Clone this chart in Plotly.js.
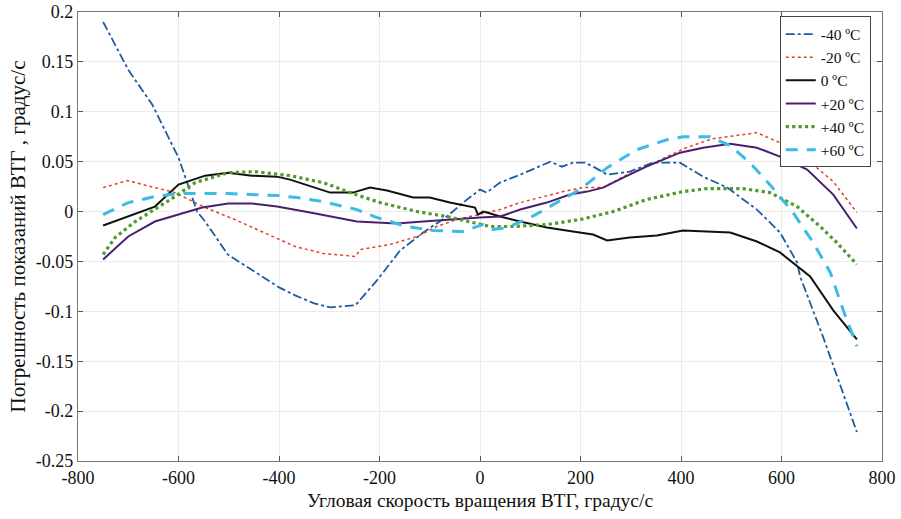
<!DOCTYPE html>
<html>
<head>
<meta charset="utf-8">
<script src="https://cdn.plot.ly/plotly-3.0.1.min.js"></script>
<style>html,body{margin:0;padding:0;background:#fff;}#chart{width:901px;height:519px;}</style>
</head>
<body>
<div id="chart"></div>
<script>
// Series names
const seriesNames = ['-40 ºC', '-20 ºC', '0 ºC', '+20 ºC', '+40 ºC', '+60 ºC'];

// -40 ºC
const xM40 = [-750, -700, -652, -600, -563, -547, -502, -450, -400, -368, -330, -298, -248, -205, -159, -113, -66, -26, 0, 13, 40, 80, 113, 140, 163, 185, 209, 229, 253, 298, 344, 398, 444, 492, 551, 597, 631, 637, 683, 750];
const yM40 = [0.190, 0.142, 0.107, 0.054, 0.000, -0.010, -0.043, -0.060, -0.076, -0.084, -0.092, -0.096, -0.094, -0.069, -0.039, -0.021, -0.005, 0.012, 0.022, 0.019, 0.029, 0.037, 0.044, 0.050, 0.045, 0.049, 0.049, 0.044, 0.037, 0.040, 0.049, 0.049, 0.035, 0.024, 0.002, -0.021, -0.051, -0.065, -0.126, -0.221];

// -20 ºC
const xM20 = [-750, -702, -607, -547, -488, -434, -368, -312, -248, -238, -179, -125, -86, -46, 0, 40, 80, 120, 165, 205, 245, 285, 331, 372, 410, 463, 551, 597, 651, 703, 750];
const yM20 = [0.024, 0.031, 0.019, 0.004, -0.008, -0.020, -0.035, -0.042, -0.045, -0.038, -0.033, -0.025, -0.015, -0.008, -0.003, 0.002, 0.009, 0.014, 0.020, 0.024, 0.024, 0.035, 0.045, 0.055, 0.064, 0.073, 0.079, 0.069, 0.052, 0.030, -0.001];

// 0 ºC
const x0 = [-750, -700, -647, -600, -547, -501, -454, -404, -378, -298, -253, -219, -185, -133, -100, -60, -10, -4, 6, 14, 40, 80, 133, 185, 225, 253, 298, 352, 404, 498, 551, 597, 631, 657, 703, 750];
const y0 = [-0.014, -0.005, 0.005, 0.027, 0.036, 0.039, 0.036, 0.035, 0.032, 0.019, 0.019, 0.024, 0.021, 0.014, 0.014, 0.009, 0.004, -0.003, 0.000, -0.001, -0.005, -0.010, -0.016, -0.020, -0.023, -0.029, -0.026, -0.024, -0.019, -0.021, -0.030, -0.041, -0.055, -0.065, -0.099, -0.128];

// +20 ºC
const xP20 = [-750, -700, -647, -600, -553, -501, -454, -404, -368, -338, -245, -166, -113, -60, 0, 40, 80, 133, 179, 213, 245, 285, 331, 398, 444, 498, 551, 597, 651, 703, 750];
const yP20 = [-0.048, -0.025, -0.010, -0.003, 0.004, 0.008, 0.008, 0.005, 0.002, -0.001, -0.010, -0.012, -0.010, -0.008, -0.006, -0.005, 0.002, 0.009, 0.017, 0.020, 0.024, 0.034, 0.045, 0.059, 0.064, 0.068, 0.064, 0.055, 0.042, 0.017, -0.017];

// +40 ºC
const xP40 = [-750, -726, -686, -647, -607, -567, -501, -448, -394, -378, -312, -253, -199, -125, -66, -20, 20, 66, 133, 199, 265, 331, 404, 451, 523, 577, 631, 677, 710, 750];
const yP40 = [-0.043, -0.026, -0.010, 0.002, 0.015, 0.029, 0.039, 0.040, 0.037, 0.036, 0.029, 0.018, 0.009, 0.000, -0.005, -0.010, -0.015, -0.015, -0.013, -0.008, 0.000, 0.012, 0.020, 0.023, 0.023, 0.019, 0.005, -0.015, -0.031, -0.053];

// +60 ºC
const xP60 = [-750, -700, -647, -600, -501, -462, -402, -364, -312, -245, -205, -146, -94, -34, 6, 26, 54, 100, 153, 199, 253, 312, 372, 404, 458, 498, 537, 577, 623, 663, 697, 723, 750];
const yP60 = [-0.003, 0.009, 0.015, 0.018, 0.018, 0.017, 0.016, 0.014, 0.010, 0.002, -0.006, -0.015, -0.019, -0.020, -0.013, -0.018, -0.016, -0.006, 0.009, 0.022, 0.044, 0.062, 0.072, 0.075, 0.075, 0.066, 0.049, 0.027, -0.001, -0.031, -0.061, -0.099, -0.135];

// Tick labels
const xTickVals = [-800, -600, -400, -200, 0, 200, 400, 600, 800];
const xTickText = ['-800', '-600', '-400', '-200', '0', '200', '400', '600', '800'];
const yTickVals = [0.2, 0.15, 0.1, 0.05, 0, -0.05, -0.1, -0.15, -0.2, -0.25];
const yTickText = ['0.2', '0.15', '0.1', '0.05', '0', '-0.05', '-0.1', '-0.15', '-0.2', '-0.25'];

const xs = [xM40, xM20, x0, xP20, xP40, xP60];
const ys = [yM40, yM20, y0, yP20, yP40, yP60];
const styles = [
  {color: '#1b5b9f', width: 1.8, dash: 'dashdot'},
  {color: '#e2402a', width: 1.5, dash: 'dot'},
  {color: '#111111', width: 2, dash: 'solid'},
  {color: '#4a1f6e', width: 2, dash: 'solid'},
  {color: '#4f9a2c', width: 3.2, dash: 'dot'},
  {color: '#3bbbe6', width: 3, dash: '12px,9px'}
];

const traces = seriesNames.map((n, i) => ({
  x: xs[i], y: ys[i], name: n, type: 'scatter', mode: 'lines',
  line: styles[i]
}));

const fontFam = "'Liberation Serif', 'Times New Roman', serif";
const layout = {
  width: 901, height: 519,
  margin: {l: 78, r: 19, t: 12, b: 58},
  paper_bgcolor: '#ffffff', plot_bgcolor: '#ffffff',
  font: {family: fontFam, size: 18, color: '#111'},
  showlegend: true,
  legend: {
    x: 0.986, y: 0.99, xanchor: 'right', yanchor: 'top',
    bgcolor: '#ffffff', bordercolor: '#444', borderwidth: 1,
    font: {family: fontFam, size: 15.5, color: '#111'},
    tracegroupgap: 0, itemwidth: 30
  },
  xaxis: {
    range: [-800, 800], tickvals: xTickVals, ticktext: xTickText,
    showgrid: true, gridcolor: '#ebebeb', gridwidth: 1,
    zeroline: false, showline: true, linecolor: '#777', linewidth: 1.2,
    mirror: 'ticks', ticks: 'inside', ticklen: 5, tickcolor: '#555',
    tickfont: {family: fontFam, size: 18, color: '#111'},
    title: {text: 'Угловая скорость вращения ВТГ, градус/с', font: {family: fontFam, size: 19.5, color: '#111'}, standoff: 6}
  },
  yaxis: {
    range: [-0.25, 0.2], tickvals: yTickVals, ticktext: yTickText,
    showgrid: true, gridcolor: '#ebebeb', gridwidth: 1,
    zeroline: false, showline: true, linecolor: '#777', linewidth: 1.2,
    mirror: 'ticks', ticks: 'inside', ticklen: 5, tickcolor: '#555',
    tickfont: {family: fontFam, size: 18, color: '#111'},
    title: {text: 'Погрешность показаний ВТГ , градус/с', font: {family: fontFam, size: 21, color: '#111'}, standoff: 4}
  }
};

Plotly.newPlot('chart', traces, layout, {displayModeBar: false, staticPlot: true});
</script>
</body>
</html>
